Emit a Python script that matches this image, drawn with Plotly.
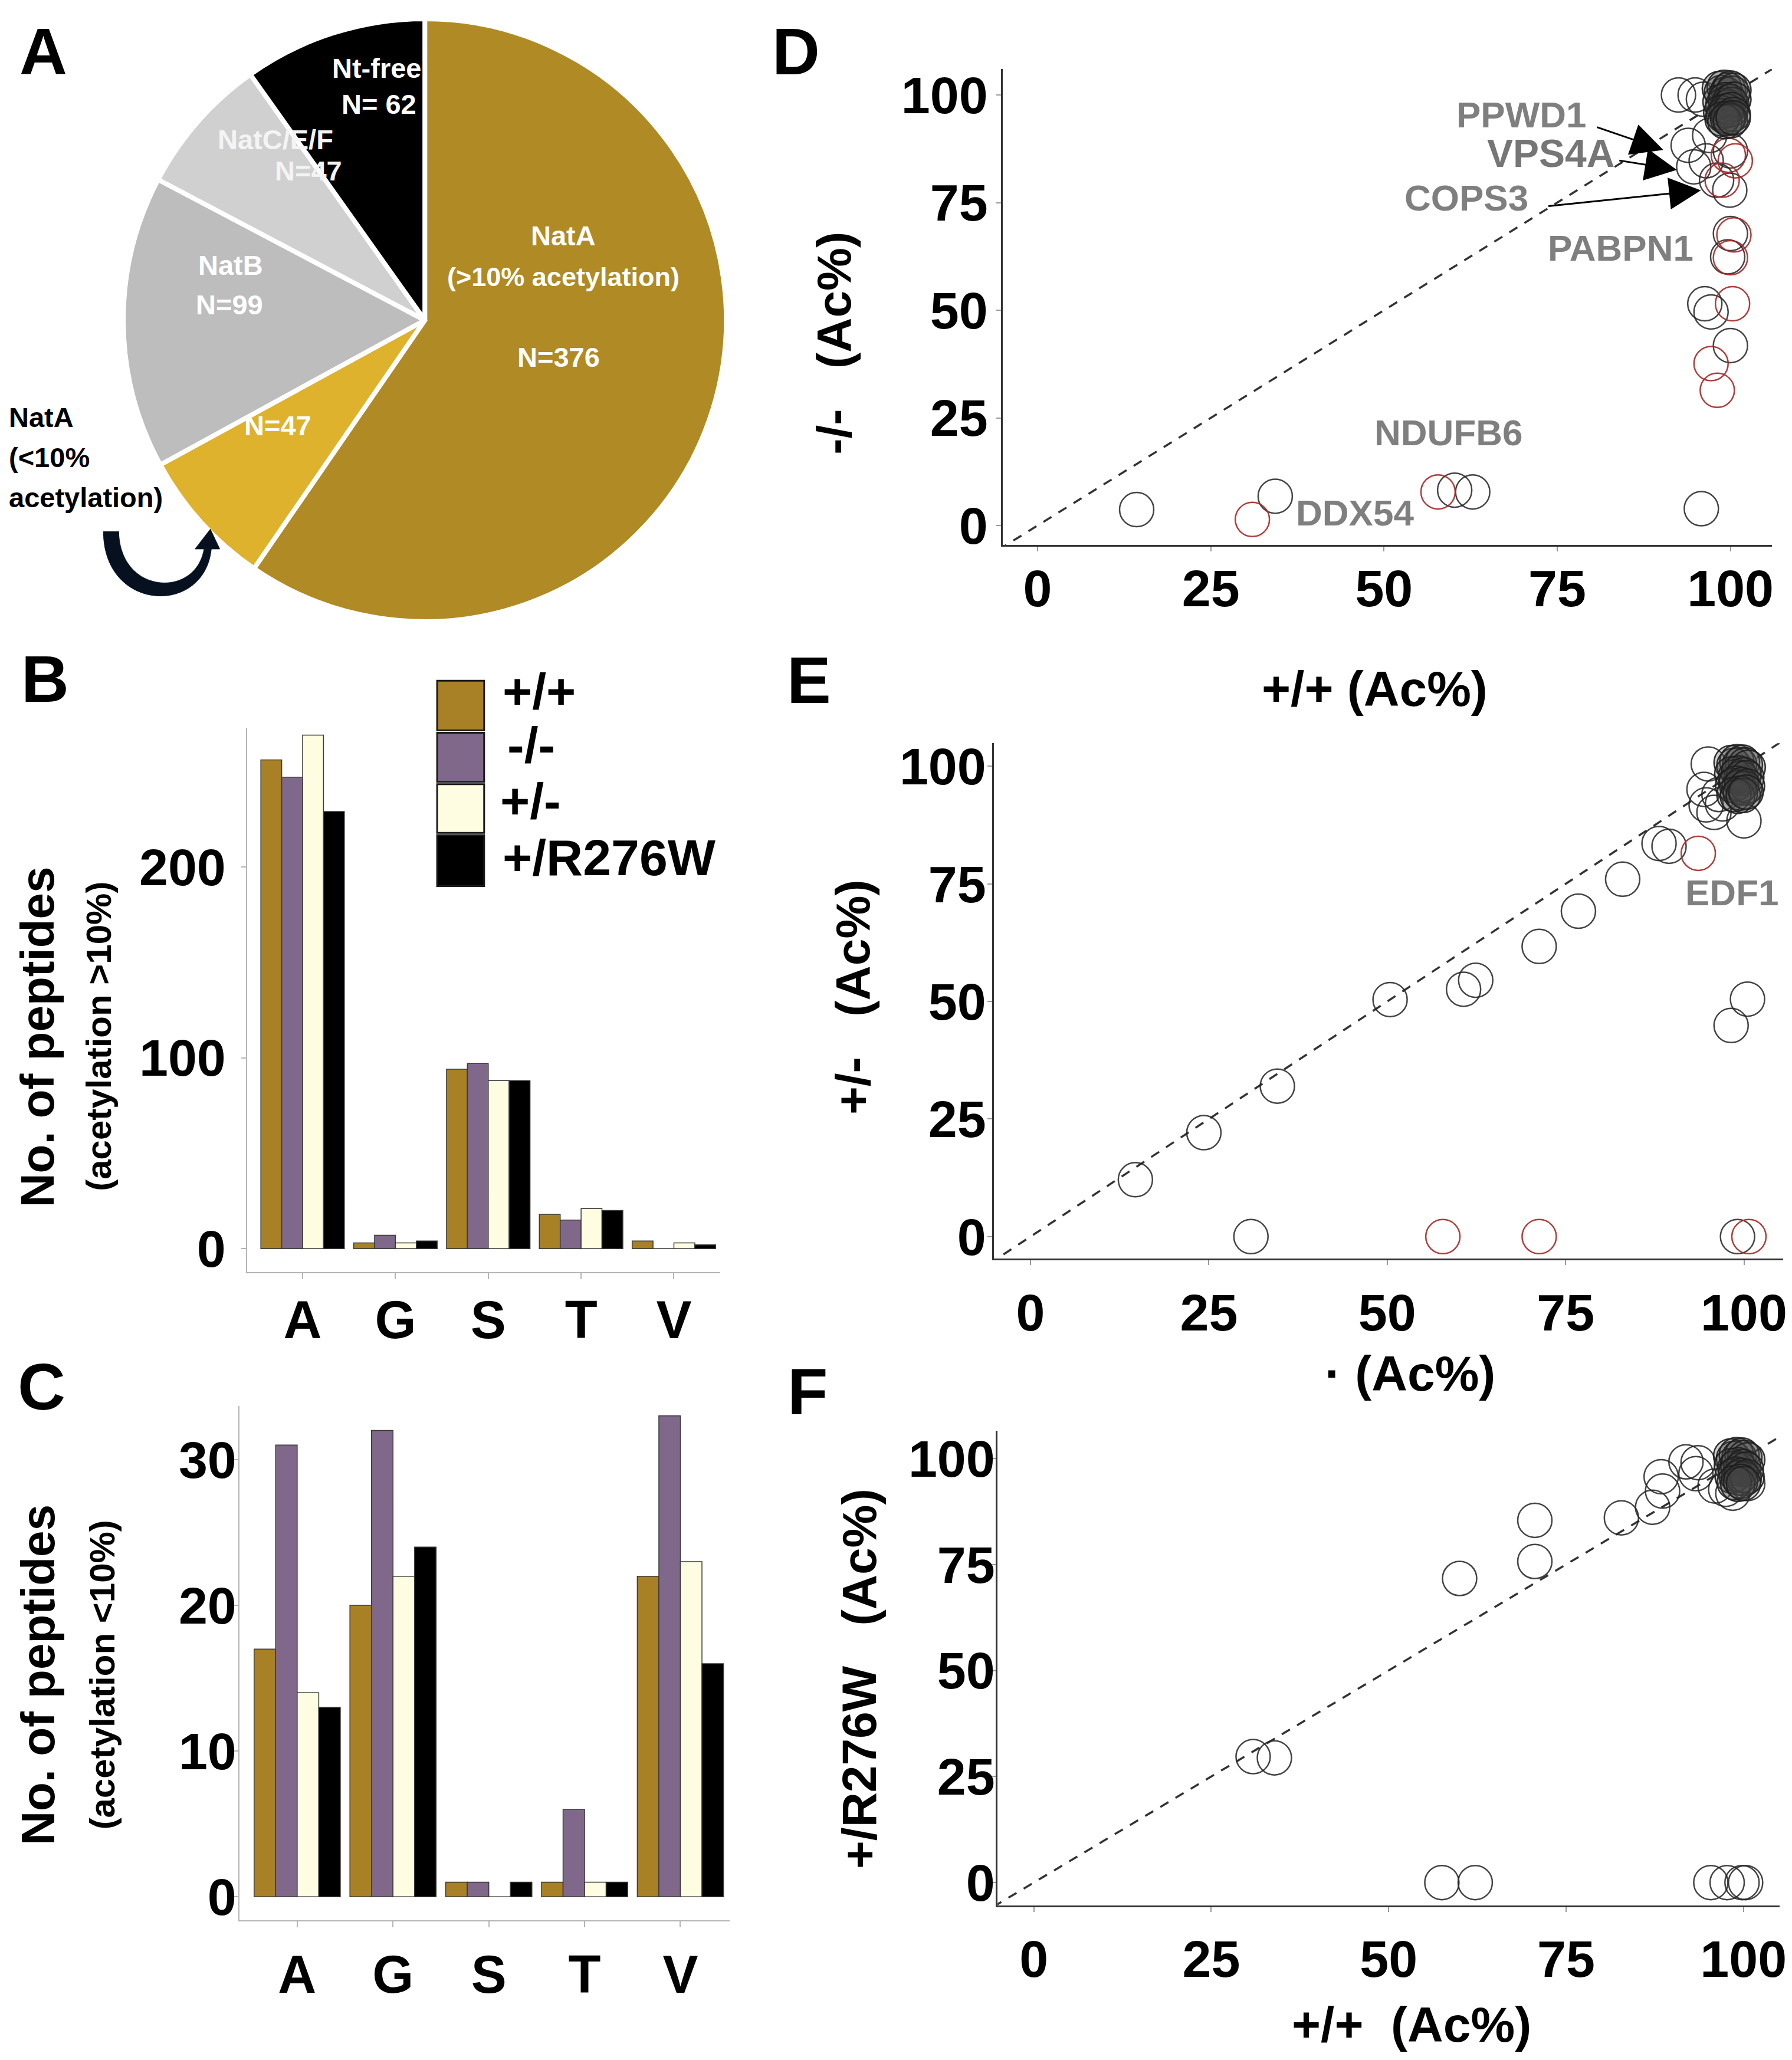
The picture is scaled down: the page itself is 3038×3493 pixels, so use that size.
import plotly.graph_objects as go

W, H = 3038, 3493
def px(x): return x / W
def py(y): return 1 - y / H

# ---------------- data ----------------
pie_labels = ["NatA (>10% acetylation)", "NatA (<10% acetylation)", "NatB", "NatC/E/F", "Nt-free"]
pie_values = [376, 47, 99, 47, 62]
pie_colors = ["#B08A24", "#DFB22D", "#BDBDBD", "#D0D0D0", "#000000"]

residues = ["A", "G", "S", "T", "V"]
genotypes = ["+/+", "-/-", "+/-", "+/R276W"]
geno_colors = ["#A88025", "#7F6889", "#FFFDE1", "#000000"]

b_wt = [256, 3, 94, 18, 4]
b_ko = [247, 7, 97, 15, 0]
b_het = [269, 3, 88, 21, 3]
b_r276w = [229, 4, 88, 20, 2]

c_wt = [17, 20, 1, 1, 22]
c_ko = [31, 32, 1, 6, 33]
c_het = [14, 22, 0, 1, 23]
c_r276w = [13, 24, 1, 1, 16]

# Panel D : +/+ vs -/-
d_black_x = [14.3, 34.3, 60.2, 62.8, 95.8, 92.5, 94.9, 96.1, 93.9, 94.7, 96.5, 97.0, 98.0, 99.9, 100.0, 100.0, 99.6, 96.3, 97.2, 100.0]
d_black_y = [3.7, 6.8, 8.2, 7.8, 3.9, 100.0, 100.0, 99.0, 88.3, 83.3, 84.7, 90.6, 80.2, 77.9, 87.0, 67.8, 62.4, 51.5, 49.6, 41.8]
d_red_x = [31.0, 57.8, 99.7, 100.7, 98.8, 100.5, 100.0, 100.3, 97.2, 98.1]
d_red_y = [1.4, 7.8, 86.0, 84.7, 80.2, 67.5, 62.2, 51.5, 37.6, 31.4]
d_core_x = [98.4, 98.7, 99.1, 99.4, 99.7, 100.0, 100.3, 100.5, 98.5, 98.9, 99.3, 99.6, 99.9, 100.2, 100.5, 98.6, 99.0, 99.4, 99.8, 100.1, 100.4, 98.8, 99.2, 99.6, 100.0, 100.4]
d_core_y = [101.5, 100.6, 101.8, 100.2, 101.2, 101.6, 100.4, 101.1, 98.4, 97.6, 98.9, 97.2, 98.5, 97.8, 99.0, 95.9, 95.2, 96.3, 94.8, 96.6, 95.5, 94.4, 93.8, 94.5, 94.0, 94.7]

# Panel E : +/+ vs +/-
e_black_x = [14.7, 24.3, 34.6, 50.4, 60.7, 62.4, 71.3, 76.8, 83.0, 88.1, 89.5, 100.0, 100.5, 98.2, 30.9, 99.1, 95.0, 94.4, 94.7, 95.8, 97.0, 96.5]
e_black_y = [12.1, 22.1, 32.0, 50.4, 52.6, 54.5, 61.7, 69.2, 76.0, 83.6, 83.0, 88.4, 50.5, 44.9, 0.0, 0.0, 100.5, 95.1, 91.8, 90.2, 92.0, 94.0]
e_red_x = [93.6, 57.8, 71.3, 100.7]
e_red_y = [81.5, 0.0, 0.0, 0.0]
e_core_x = [98.2, 98.6, 99.0, 99.4, 99.8, 100.2, 100.6, 98.3, 98.8, 99.2, 99.6, 100.0, 100.4, 98.4, 98.9, 99.3, 99.7, 100.1, 100.5, 98.6, 99.1, 99.5, 99.9, 100.3]
e_core_y = [100.8, 100.2, 101.0, 100.4, 100.9, 100.3, 99.8, 98.4, 97.8, 98.6, 97.5, 98.2, 97.6, 95.9, 96.4, 95.5, 96.1, 95.3, 95.8, 94.0, 93.6, 94.3, 93.8, 94.5]

# Panel F : +/+ vs +/R276W
f_black_x = [30.9, 33.9, 60.0, 70.6, 70.6, 82.8, 87.2, 88.6, 88.4, 93.6, 91.9, 93.3, 97.5, 100.6, 96.0, 98.5, 57.5, 62.2, 95.4, 97.7, 99.8, 100.3]
f_black_y = [29.7, 29.4, 71.7, 75.7, 85.4, 86.0, 88.5, 92.3, 95.7, 99.0, 99.2, 96.4, 92.7, 94.1, 93.5, 91.8, 0.0, 0.0, 0.0, 0.0, 0.0, 0.0]
f_core_x = [98.2, 98.6, 99.0, 99.4, 99.8, 100.2, 100.6, 98.3, 98.8, 99.2, 99.6, 100.0, 100.4, 98.4, 98.9, 99.3, 99.7, 100.1, 100.5, 98.7, 99.2, 99.6, 100.0]
f_core_y = [100.6, 100.0, 100.9, 100.3, 100.8, 100.2, 99.7, 98.3, 97.7, 98.5, 97.4, 98.1, 97.5, 95.8, 96.3, 95.4, 96.0, 95.2, 95.7, 94.3, 93.9, 94.6, 94.1]

# ---------------- fonts / styles ----------------
ARIAL = "Liberation Sans, Arial, sans-serif"
GRAY_TXT = "#7F7F7F"
BLACK_LINE = "rgba(35,35,35,0.85)"
RED_LINE = "rgba(165,40,40,0.9)"
CORE_LINE = "rgba(30,30,30,0.9)"
CORE_FILL = "rgba(70,70,70,0.26)"
MSIZE = 58

fig = go.Figure()

# ---------------- Panel A : pie ----------------
R = 515
cx, cy = 715, 529
fig.add_trace(go.Pie(
    labels=pie_labels, values=pie_values, sort=False, direction="clockwise", rotation=0,
    marker=dict(colors=pie_colors, line=dict(color="white", width=8)),
    textinfo="none", hoverinfo="label+value", showlegend=False,
    domain=dict(x=[px(cx - R), px(cx + R)], y=[py(cy + R), py(cy - R)]),
))

# ---------------- Panels B, C : bars ----------------
b_series = [b_wt, b_ko, b_het, b_r276w]
c_series = [c_wt, c_ko, c_het, c_r276w]
for name, col, vals in zip(genotypes, geno_colors, b_series):
    fig.add_trace(go.Bar(x=residues, y=vals, name=name, xaxis="x", yaxis="y",
                         marker=dict(color=col, line=dict(color="#3a3a3a", width=1.5)),
                         showlegend=False))
for name, col, vals in zip(genotypes, geno_colors, c_series):
    fig.add_trace(go.Bar(x=residues, y=vals, name=name, xaxis="x2", yaxis="y2",
                         marker=dict(color=col, line=dict(color="#3a3a3a", width=1.5)),
                         showlegend=False))

# ---------------- Panels D, E, F : scatter ----------------
def diag(xa, ya):
    fig.add_trace(go.Scatter(x=[-10, 110], y=[-10, 110], mode="lines", xaxis=xa, yaxis=ya,
                             line=dict(color="#333333", width=3.5, dash="16px,14px"),
                             hoverinfo="skip", showlegend=False))

def circles(xs, ys, xa, ya, line_col, fill="rgba(0,0,0,0)"):
    fig.add_trace(go.Scatter(x=xs, y=ys, mode="markers", xaxis=xa, yaxis=ya, showlegend=False,
                             marker=dict(symbol="circle", size=MSIZE, color=fill,
                                         line=dict(color=line_col, width=2.5))))

diag("x3", "y3")
circles(d_black_x, d_black_y, "x3", "y3", BLACK_LINE)
circles(d_red_x, d_red_y, "x3", "y3", RED_LINE)
circles(d_core_x, d_core_y, "x3", "y3", CORE_LINE, CORE_FILL)

diag("x4", "y4")
circles(e_black_x, e_black_y, "x4", "y4", BLACK_LINE)
circles(e_red_x, e_red_y, "x4", "y4", RED_LINE)
circles(e_core_x, e_core_y, "x4", "y4", CORE_LINE, CORE_FILL)

diag("x5", "y5")
circles(f_black_x, f_black_y, "x5", "y5", BLACK_LINE)
circles(f_core_x, f_core_y, "x5", "y5", CORE_LINE, CORE_FILL)

# ---------------- axes ----------------
def bar_x(dom, rng, standoff):
    return dict(domain=dom, range=rng, type="category", showline=True, linecolor="#b5b5b5", linewidth=2,
                ticks="outside", ticklen=10, tickcolor="#b5b5b5", tickwidth=2,
                tickfont=dict(family=ARIAL, size=90, color="black", weight="bold"),
                ticklabelstandoff=standoff, showgrid=False, zeroline=False)

def bar_y(dom, rng, tv, standoff):
    return dict(domain=dom, range=rng, tickvals=tv, showline=True, linecolor="#b5b5b5", linewidth=2,
                ticks="outside", ticklen=8, tickcolor="#b5b5b5", tickwidth=2,
                tickfont=dict(family=ARIAL, size=88, color="black", weight="bold"),
                ticklabelstandoff=standoff, showgrid=False, zeroline=False)

def sc_ax(dom, rng, standoff):
    return dict(domain=dom, range=rng, tickvals=[0, 25, 50, 75, 100], showline=True,
                linecolor="#333333", linewidth=3, ticks="outside", ticklen=8, tickcolor="#999999",
                tickwidth=2, tickfont=dict(family=ARIAL, size=88, color="black", weight="bold"),
                ticklabelstandoff=standoff, showgrid=False, zeroline=False)

fig.update_layout(
    xaxis=bar_x([px(413), px(1218)], [-0.595, 4.5], -8),
    yaxis=bar_y([py(2156), py(1225)], [-12.4, 273], [0, 100, 200], 9),
    xaxis2=dict(bar_x([px(400), px(1234)], [-0.6, 4.515], 3), anchor="y2"),
    yaxis2=dict(bar_y([py(3263), py(2384)], [-1.6, 33.7], [0, 10, 20, 30], -22), anchor="x2"),
    xaxis3=dict(sc_ax([px(1699), px(3008)], [-5, 106], -13), anchor="y3"),
    yaxis3=dict(sc_ax([py(913), py(100)], [-4.5, 106], -3), anchor="x3"),
    xaxis4=dict(sc_ax([px(1684), px(3027)], [-5.1, 105.5], 6), anchor="y4"),
    yaxis4=dict(sc_ax([py(2132), py(1252)], [-4.6, 104.9], -15), anchor="x4"),
    xaxis5=dict(sc_ax([px(1690), px(3021)], [-5.1, 105.1], 4), anchor="y5"),
    yaxis5=dict(sc_ax([py(3238), py(2427)], [-5.4, 106.5], -24), anchor="x5"),
)

# ---------------- annotations ----------------
ann = []
def txt(x, y, s, size, color="black", bold=True, xanchor="center", angle=0):
    if angle == 0:
        y = y - (0.3 if size < 75 else 0.2) * size
    else:
        x = x - 0.1 * size
    ann.append(dict(x=px(x), y=py(y), xref="paper", yref="paper", text=s, showarrow=False,
                    xanchor=xanchor, yanchor="middle", textangle=angle,
                    font=dict(family=ARIAL, size=size, color=color, weight="bold" if bold else "normal")))

# panel letters
for letter, (x, y) in {"A": (66, 92), "B": (69, 1165), "C": (63, 2374),
                       "D": (1347, 92), "E": (1369, 1167), "F": (1366, 2382)}.items():
    txt(x, y, letter, 112)

# pie labels
PW = "white"
PS = 47
txt(633, 112, "Nt-free", PS, PW)
txt(637, 174, "N= 62", PS, PW)
txt(461, 234, "NatC/E/F", PS, "#F4F4F4")
txt(517, 288, "N=47", PS, "#F4F4F4")
txt(385, 449, "NatB", PS, PW)
txt(383, 516, "N=99", PS, PW)
txt(951, 399, "NatA", PS, PW)
txt(951, 469, "(>10% acetylation)", 45, PW)
txt(943, 606, "N=376", PS, PW)
txt(465, 723, "N=47", PS, PW)
txt(5, 709, "NatA", PS, "black", xanchor="left")
txt(5, 778, "(<10%", PS, "black", xanchor="left")
txt(5, 846, "acetylation)", PS, "black", xanchor="left")

# bar legend labels
txt(845, 1180, "+/+", 86, xanchor="left")
txt(853, 1272, "-/-", 86, xanchor="left")
txt(841, 1368, "+/-", 86, xanchor="left")
txt(845, 1464, "+/R276W", 86, xanchor="left")

# bar axis titles
txt(64, 1754, "No. of peptides", 80, angle=-90)
txt(166, 1753, "(acetylation >10%)", 60, angle=-90)
txt(64, 2844, "No. of peptides", 80, angle=-90)
txt(172, 2844, "(acetylation <10%)", 60, angle=-90)

# scatter axis titles
NB = "\u00a0"
txt(1419, 568, "-/-" + NB * 3 + "(Ac%)", 82, angle=-90)
txt(1452, 1686, "+/-" + NB * 3 + "(Ac%)", 82, angle=-90)
txt(1463, 2851, "+/R276W" + NB * 3 + "(Ac%)", 82, angle=-90)
txt(2332, 1176, "+/+ (Ac%)", 84)
txt(2392, 2346, "\u00b7 (Ac%)", 84)
txt(2394, 3458, "+/+" + NB * 2 + "(Ac%)", 84)

# gene labels
txt(2581, 196, "PPWD1", 62, GRAY_TXT)
txt(2631, 264, "VPS4A", 66, "#767676")
txt(2488, 339, "COPS3", 62, GRAY_TXT)
txt(2750, 424, "PABPN1", 62, GRAY_TXT)
txt(2457, 740, "NDUFB6", 62, GRAY_TXT)
txt(2298, 877, "DDX54", 62, GRAY_TXT)
txt(2940, 1526, "EDF1", 62, GRAY_TXT)

def arrow(tx, ty, hx, hy):
    ann.append(dict(x=px(hx), y=py(hy), xref="paper", yref="paper", ax=tx - hx, ay=ty - hy,
                    axref="pixel", ayref="pixel", text="", showarrow=True, arrowhead=2,
                    arrowsize=3.6, arrowwidth=3, arrowcolor="black", standoff=0))
arrow(2709, 199, 2823, 238)
arrow(2747, 256, 2846, 272)
arrow(2627, 334, 2887, 307)

fig.update_layout(annotations=ann)

# ---------------- shapes: bar legend boxes, curved arrow ----------------
shapes = []
box_y = [(1145, 1230), (1234, 1318), (1322, 1405), (1409, 1496)]
for col, (y0, y1) in zip(geno_colors, box_y):
    shapes.append(dict(type="rect", xref="paper", yref="paper", x0=px(736), x1=px(816),
                       y0=py(y1), y1=py(y0), fillcolor=col, line=dict(color="#1a1a1a", width=3)))

def P(x, y):
    return f"{px(x):.5f},{py(y):.5f}"
arc = (f"M {P(168, 890)} C {P(168, 1030)} {P(345, 1035)} {P(352, 915)} "
       f"L {P(340, 915)} C {P(330, 1005)} {P(196, 1000)} {P(194, 890)} Z")
shapes.append(dict(type="path", xref="paper", yref="paper", path=arc,
                   fillcolor="#06101f", line=dict(color="#0b1a33", width=1)))
head = f"M {P(324, 920)} L {P(366, 920)} L {P(350, 886)} Z"
shapes.append(dict(type="path", xref="paper", yref="paper", path=head,
                   fillcolor="#06101f", line=dict(color="#0b1a33", width=1)))
fig.update_layout(shapes=shapes)

fig.update_layout(
    width=W, height=H, margin=dict(l=0, r=0, t=0, b=0),
    paper_bgcolor="white", plot_bgcolor="white",
    barmode="group", bargap=0.1, bargroupgap=0.0, showlegend=False,
    font=dict(family=ARIAL, color="black"),
)

fig.write_html("out.html")
